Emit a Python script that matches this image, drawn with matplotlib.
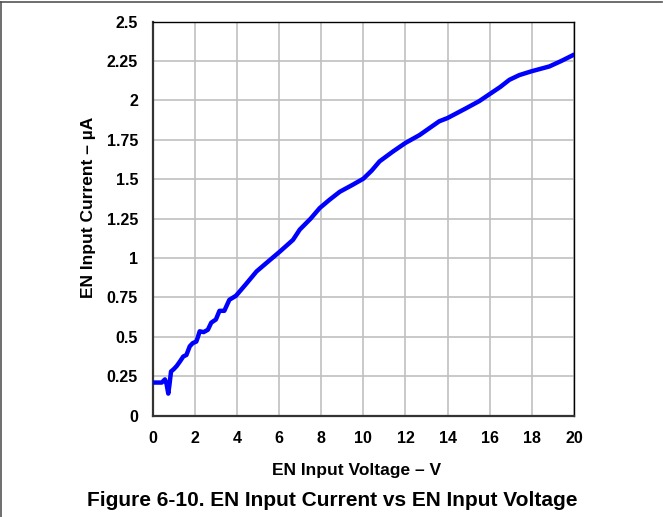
import matplotlib.pyplot as plt
from matplotlib.lines import Line2D

plt.rcParams['font.family'] = ['Liberation Sans', 'DejaVu Sans']

# EN input voltage (V) and current (uA)
voltage = [0, 0.43, 0.58, 0.66, 0.74, 0.8, 0.87, 1.0, 1.14, 1.3, 1.45, 1.6, 1.76, 1.9,
           2.07, 2.15, 2.23, 2.42, 2.62, 2.78, 3.0, 3.17, 3.4, 3.64, 3.95, 4.4,
           4.93, 5.5, 6.03, 6.66, 6.98, 7.5, 7.93, 8.4, 8.88, 9.5, 10.0, 10.4,
           10.77, 11.4, 12.0, 12.67, 13.6, 14.0, 14.88, 15.5, 16.0, 16.5, 16.93,
           17.4, 18.0, 18.83, 19.4, 20.0]
current = [0.21, 0.21, 0.23, 0.2, 0.14, 0.2, 0.28, 0.295, 0.315, 0.345, 0.375, 0.385,
           0.44, 0.46, 0.47, 0.5, 0.535, 0.53, 0.545, 0.59, 0.61, 0.665, 0.665,
           0.735, 0.76, 0.83, 0.915, 0.98, 1.04, 1.115, 1.18, 1.25, 1.317, 1.37,
           1.42, 1.465, 1.503, 1.555, 1.613, 1.675, 1.73, 1.78, 1.867, 1.888,
           1.95, 1.995, 2.04, 2.085, 2.13, 2.16, 2.185, 2.215, 2.25, 2.29]

x_ticks = [0, 2, 4, 6, 8, 10, 12, 14, 16, 18, 20]
y_ticks = [0, 0.25, 0.5, 0.75, 1, 1.25, 1.5, 1.75, 2, 2.25, 2.5]
y_labels = ['0', '0.25', '0.5', '0.75', '1', '1.25', '1.5', '1.75', '2', '2.25', '2.5']

fig = plt.figure(figsize=(6.63, 5.17), dpi=100)
ax = fig.add_axes([0.2303, 0.196, 0.6355, 0.7624])

ax.plot(voltage, current, color='#0000ff', linewidth=3.2, solid_capstyle='round',
        solid_joinstyle='round', zorder=3)

ax.set_xlim(0, 20)
ax.set_ylim(0, 2.5)
ax.set_xticks(x_ticks)
ax.set_yticks(y_ticks)
ax.set_yticklabels(y_labels)
ax.grid(True, color='#c0c0c0', linewidth=1.2)
ax.set_axisbelow(True)
ax.tick_params(length=0, labelsize=11.5)
ax.tick_params(axis='x', pad=11)
ax.tick_params(axis='y', pad=10.5)
for lab in ax.get_xticklabels() + ax.get_yticklabels():
    lab.set_fontweight('bold')
for s in ax.spines.values():
    s.set_color('black')
    s.set_linewidth(1.0)
for s in ['left', 'bottom']:
    ax.spines[s].set_color('#333333')
    ax.spines[s].set_linewidth(1.6)

# axis titles placed to match the page layout
fig.text(356.5 / 663, 1 - 470.5 / 517, 'EN Input Voltage – V', ha='center',
         va='center', fontsize=12.5, fontweight='bold')
fig.text(89 / 663, 1 - 298 / 517, 'EN Input Current – µA', ha='center',
         va='bottom', rotation=90, fontsize=12.5, fontweight='bold')

fig.text(332 / 663, 1 - 501 / 517, 'Figure 6-10. EN Input Current vs EN Input Voltage',
         ha='center', va='center', fontsize=15, fontweight='bold')

# page frame lines at top and left
fig.add_artist(Line2D([0, 0.998], [0.996, 0.996], color='#555555', linewidth=1.2,
                      transform=fig.transFigure))
fig.add_artist(Line2D([0.001, 0.001], [0, 0.996], color='#555555', linewidth=1.2,
                      transform=fig.transFigure))

fig.savefig('out.png', dpi=100)
